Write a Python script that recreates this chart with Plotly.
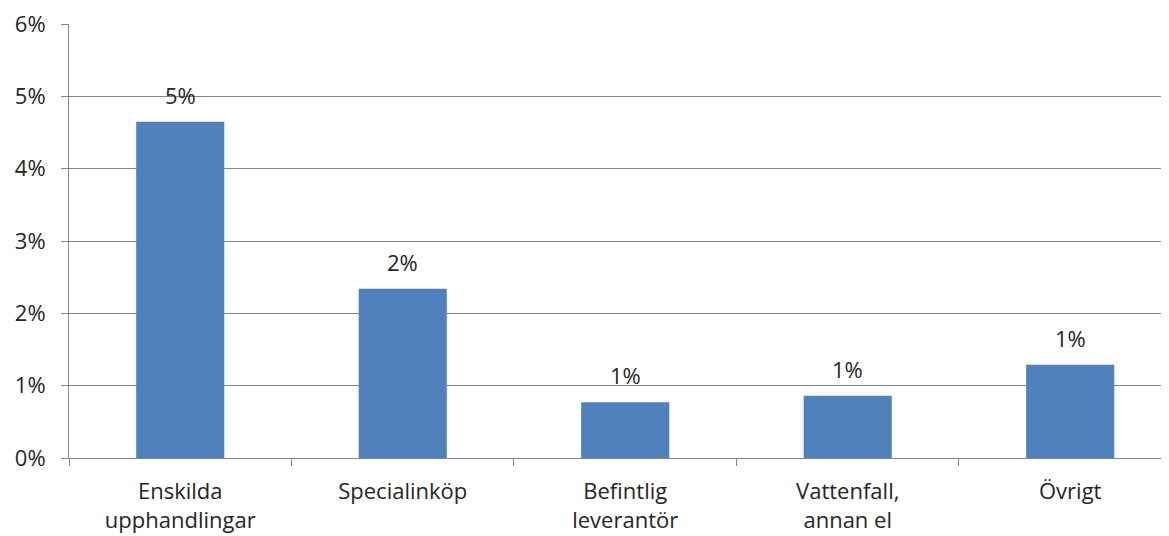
import plotly.graph_objects as go

categories = ["Enskilda<br>upphandlingar", "Specialinköp", "Befintlig<br>leverantör", "Vattenfall,<br>annan el", "Övrigt"]
values = [0.0465, 0.0234, 0.0077, 0.0086, 0.0129]
y_ticks = [0, 0.01, 0.02, 0.03, 0.04, 0.05, 0.06]
y_tick_labels = ["0%", "1%", "2%", "3%", "4%", "5%", "6%"]

FONT = "'Open Sans', sans-serif"
FS = 22

fig = go.Figure()
fig.add_trace(go.Bar(
    x=categories, y=values,
    marker=dict(color="#4F81BD", line=dict(width=0)),
    width=0.396,
    hoverinfo="skip",
))

for c, v in zip(categories, values):
    fig.add_annotation(
        x=c, y=v, text=f"{round(v * 100):.0f}%", showarrow=False,
        yanchor="bottom", yshift=10,
        font=dict(family=FONT, size=FS, color="#262626"),
    )

fig.update_layout(
    width=1161, height=536,
    margin=dict(l=61, r=0, t=16, b=86),
    plot_bgcolor="white", paper_bgcolor="white",
    showlegend=False,
    font=dict(family=FONT, size=FS, color="#262626"),
)
fig.update_xaxes(
    type="category",
    range=[-0.5, 4.444],
    tickson="boundaries",
    ticks="outside", ticklen=7, tickcolor="#868686", tickwidth=1,
    showline=True, linecolor="#868686", linewidth=1,
    showgrid=False,
    automargin=False,
    ticklabelstandoff=14,
    tickfont=dict(family=FONT, size=FS, color="#262626"),
)
fig.update_yaxes(
    range=[0, 0.0600001],
    tickvals=y_ticks, ticktext=y_tick_labels,
    ticks="outside", ticklen=7, tickcolor="#868686", tickwidth=1,
    showline=True, linecolor="#868686", linewidth=1,
    showgrid=True, gridcolor="#868686", gridwidth=1,
    zeroline=False,
    automargin=False,
    ticklabeloverflow="allow",
    ticklabelstandoff=11,
    tickfont=dict(family=FONT, size=FS, color="#262626"),
)

fig.write_html("out.html")
